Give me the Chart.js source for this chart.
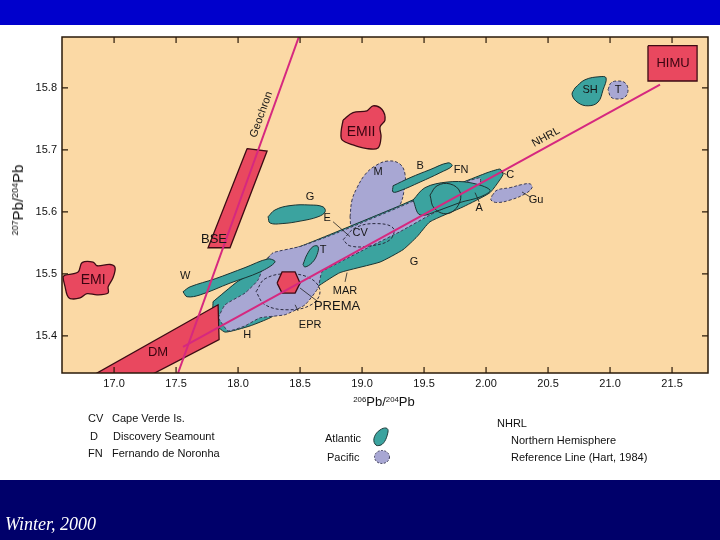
<!DOCTYPE html>
<html><head><meta charset="utf-8">
<script src="https://cdn.jsdelivr.net/npm/chart.js@4.4.1/dist/chart.umd.min.js"></script>
<style>
body{margin:0;}
#wrap{position:relative;width:720px;height:540px;overflow:hidden;background:#fff;font-family:"Liberation Sans",Arial,sans-serif;color:#111;}
.abs{position:absolute;white-space:nowrap;font-size:11px;line-height:12px;}
sup{font-size:0.6em;vertical-align:0.55em;line-height:0;}
</style></head><body>
<div id="wrap">
 <div class="abs" style="left:0;top:0;width:720px;height:25px;background:#0000cc"></div>
 <div class="abs" style="left:0;top:480px;width:720px;height:60px;background:#00006a"></div>
 <canvas id="c" width="720" height="540" style="position:absolute;left:0;top:0"></canvas>
 <div class="abs" style="left:18px;top:200px;font-size:15px;line-height:16px;transform:translate(-50%,-50%) rotate(-90deg)"><sup>207</sup>Pb/<sup>204</sup>Pb</div>
 <div class="abs" style="left:384px;top:402px;font-size:13px;line-height:14px;transform:translate(-50%,-50%)"><sup>206</sup>Pb/<sup>204</sup>Pb</div>
 <div class="abs" style="left:88px;top:412px">CV</div><div class="abs" style="left:112px;top:412px">Cape Verde Is.</div>
 <div class="abs" style="left:90px;top:430px">D</div><div class="abs" style="left:113px;top:430px">Discovery Seamount</div>
 <div class="abs" style="left:88px;top:447px">FN</div><div class="abs" style="left:112px;top:447px">Fernando de Noronha</div>
 <div class="abs" style="left:325px;top:432px">Atlantic</div>
 <div class="abs" style="left:327px;top:451px">Pacific</div>
 <svg class="abs" style="left:371px;top:426px" width="20" height="22" viewBox="0 0 20 22"><path d="M4 18 C1 14 4 7 9 4 C13 1 18 1 17 6 C16 11 14 17 10 19 C7 20 5 20 4 18 Z" fill="#3ba39f" stroke="#1e3b3a" stroke-width="1"/></svg>
 <svg class="abs" style="left:373px;top:449px" width="18" height="16" viewBox="0 0 18 16"><ellipse cx="9" cy="8" rx="7.5" ry="6.5" fill="#a8a7d3" stroke="#3a3a55" stroke-width="1" stroke-dasharray="2,1.5"/></svg>
 <div class="abs" style="left:497px;top:417px">NHRL</div>
 <div class="abs" style="left:511px;top:434px">Northern Hemisphere</div>
 <div class="abs" style="left:511px;top:451px">Reference Line (Hart, 1984)</div>
 <div class="abs" style="left:5px;top:514px;font-family:'Liberation Serif','Times New Roman',serif;font-style:italic;font-size:18px;line-height:20px;color:#fff">Winter, 2000</div>
</div>
<script>
// ---- axes ----
const xRange = [16.58, 21.79];
const yRange = [15.34, 15.882];
const xTickValues = [17.0, 17.5, 18.0, 18.5, 19.0, 19.5, 20.0, 20.5, 21.0, 21.5];
const xTickLabels = ["17.0","17.5","18.0","18.5","19.0","19.5","2.00","20.5","21.0","21.5"];
const yTickValues = [15.4, 15.5, 15.6, 15.7, 15.8];
const yTickLabels = ["15.4","15.5","15.6","15.7","15.8"];

// ---- reference lines (206Pb/204Pb, 207Pb/204Pb) ----
const geochron = [[17.516, 15.340], [18.490, 15.882]];
const nhrl = [[17.556, 15.382], [21.403, 15.805]];

// ---- mantle end-member fields ----
const himu = [[21.306,15.868],[21.702,15.868],[21.702,15.811],[21.306,15.811]];
const emi = [[16.605,15.498],[16.710,15.503],[16.742,15.518],[16.831,15.519],[16.863,15.513],[16.968,15.515],[17.008,15.510],[16.992,15.494],[16.952,15.479],[16.952,15.469],[16.863,15.466],[16.782,15.468],[16.726,15.461],[16.645,15.460],[16.621,15.466],[16.605,15.479],[16.589,15.495]];
const emii = [[18.847,15.748],[18.927,15.760],[19.040,15.763],[19.089,15.771],[19.161,15.765],[19.185,15.748],[19.145,15.737],[19.153,15.721],[19.129,15.703],[19.040,15.702],[18.927,15.708],[18.839,15.716],[18.831,15.729]];
const bse = [[18.073,15.702],[18.234,15.698],[17.935,15.542],[17.758,15.542]];
const dm = [[16.694,15.321],[17.839,15.450],[17.847,15.394],[17.145,15.321]];
const prema = [[18.315,15.485],[18.355,15.503],[18.460,15.503],[18.500,15.485],[18.460,15.469],[18.355,15.469]];

// ---- oceanic basalt fields ----
const atlanticBand = [[17.798,15.455],[17.992,15.487],[18.153,15.506],[18.258,15.529],[18.500,15.544],[18.798,15.568],[19.282,15.608],[19.548,15.631],[19.815,15.648],[20.008,15.663],[20.113,15.669],[20.137,15.660],[20.032,15.631],[19.815,15.608],[19.548,15.584],[19.444,15.560],[19.331,15.539],[19.145,15.519],[18.823,15.502],[18.661,15.482],[18.500,15.458],[18.258,15.429],[18.097,15.416],[17.895,15.406],[17.798,15.423]];
const pacificBand = [[17.839,15.429],[17.895,15.450],[18.056,15.469],[18.161,15.490],[18.218,15.519],[18.282,15.534],[18.500,15.544],[18.798,15.566],[19.282,15.606],[19.548,15.629],[19.815,15.647],[19.952,15.655],[19.952,15.644],[19.790,15.619],[19.548,15.595],[19.306,15.568],[19.065,15.544],[18.823,15.519],[18.677,15.503],[18.645,15.477],[18.540,15.450],[18.379,15.434],[18.177,15.429],[18.056,15.416],[17.919,15.408]];
const atlanticLobe = [[19.411,15.619],[19.508,15.639],[19.685,15.648],[19.871,15.647],[20.032,15.635],[19.952,15.624],[19.790,15.615],[19.629,15.603],[19.468,15.595]];
const walvis = [[17.556,15.471],[17.613,15.479],[17.815,15.492],[18.056,15.510],[18.242,15.524],[18.298,15.519],[18.177,15.503],[17.935,15.485],[17.694,15.466],[17.589,15.463]];
const mField = [[18.903,15.592],[18.919,15.619],[18.960,15.639],[19.024,15.660],[19.105,15.674],[19.210,15.682],[19.306,15.677],[19.347,15.660],[19.339,15.635],[19.306,15.611],[19.242,15.595],[19.129,15.581],[19.000,15.571],[18.919,15.574]];
const bField = [[19.250,15.642],[19.387,15.655],[19.548,15.668],[19.694,15.679],[19.726,15.674],[19.629,15.663],[19.468,15.648],[19.306,15.634],[19.250,15.632]];
const gField = [[18.242,15.592],[18.298,15.603],[18.419,15.610],[18.581,15.611],[18.685,15.608],[18.702,15.600],[18.645,15.592],[18.500,15.585],[18.355,15.581],[18.258,15.582]];
const guField = [[20.048,15.626],[20.089,15.635],[20.194,15.639],[20.290,15.644],[20.355,15.645],[20.371,15.639],[20.315,15.629],[20.194,15.619],[20.089,15.615],[20.040,15.619]];
const shField = [[20.718,15.800],[20.798,15.813],[20.919,15.818],[20.968,15.816],[20.944,15.797],[20.903,15.777],[20.823,15.771],[20.742,15.776],[20.694,15.789]];
const tPacific = [[20.984,15.797],[21.008,15.808],[21.065,15.811],[21.121,15.808],[21.145,15.797],[21.121,15.785],[21.065,15.782],[21.008,15.785]];
const tAtlantic = [[18.524,15.515],[18.556,15.531],[18.605,15.544],[18.645,15.544],[18.637,15.531],[18.597,15.518],[18.540,15.511]];
const eprOutline = [[18.145,15.471],[18.218,15.492],[18.403,15.500],[18.589,15.492],[18.661,15.471],[18.589,15.450],[18.403,15.442],[18.218,15.450]];
const cvOutline = [[18.847,15.555],[18.944,15.574],[19.105,15.581],[19.250,15.574],[19.226,15.555],[19.065,15.545],[18.903,15.545]];
const aOutline = [[19.548,15.627],[19.605,15.642],[19.710,15.645],[19.790,15.632],[19.774,15.610],[19.685,15.597],[19.581,15.606]];

// ---- labels ----
const fieldLabels = [
 ["HIMU",21.508,15.840],["SH",20.839,15.797],["T",21.065,15.797],["EMII",18.992,15.729],
 ["BSE",17.806,15.555],["EMI",16.831,15.490],["DM",17.355,15.373],["W",17.573,15.497],
 ["G",18.581,15.624],["E",18.718,15.590],["M",19.129,15.665],["B",19.468,15.674],
 ["FN",19.798,15.668],["C",20.194,15.660],["A",19.944,15.606],["Gu",20.403,15.619],
 ["CV",18.984,15.566],["T",18.685,15.539],["G",19.419,15.519],["MAR",18.863,15.473],
 ["PREMA",18.798,15.447],["EPR",18.581,15.418],["H",18.073,15.402]
];
const leaderLines = [
 [18.766,15.584,18.903,15.560],[19.944,15.616,19.911,15.631],[20.355,15.624,20.290,15.632],
 [20.165,15.660,20.125,15.664],[18.863,15.487,18.879,15.502],[18.645,15.455,18.500,15.477],
 [18.484,15.440,18.460,15.450]
];

// ---- styles ----
const S = {
 atl:{fill:'#3ba39f', stroke:'#1a3433', dash:[]},
 pac:{fill:'#a8a7d3', stroke:'#3a3a55', dash:[3,2]},
 red:{fill:'#e9485f', stroke:'#3d0b14', dash:[]},
 dash:{fill:null, stroke:'#2a2a40', dash:[3,2]},
 solid:{fill:null, stroke:'#1e2b2a', dash:[]}
};
const layers = [
 [mField,'pac',0.4],[bField,'atl',0.4],
 [atlanticBand,'atl',0.15],[pacificBand,'pac',0.15],[atlanticLobe,'atl',0.35],[walvis,'atl',0.35],
 [emi,'red',0.35],[emii,'red',0.35],[himu,'red',0],[bse,'red',0],[dm,'red',0],
 [gField,'atl',0.4],[guField,'pac',0.4],[shField,'atl',0.4],[tPacific,'pac',0.4],[tAtlantic,'atl',0.4],
 [eprOutline,'dash',0.4],[cvOutline,'dash',0.4],[aOutline,'solid',0.4],
 [prema,'red',0]
];
const datasets = [];
layers.forEach(([arr, st, ten]) => {
 const s = S[st];
 const d = arr.concat([arr[0]]).map(p => ({x:p[0], y:p[1]}));
 datasets.push({data:d, showLine:true, fill: s.fill ? 'shape' : false, backgroundColor: s.fill || 'rgba(0,0,0,0)',
  borderColor:s.stroke, borderWidth: st==='red'?1.3:1, borderDash:s.dash, tension:ten, pointRadius:0, clip:0});
});
[geochron, nhrl].forEach(arr => {
 datasets.push({data:arr.map(p=>({x:p[0],y:p[1]})), showLine:true, fill:false, borderColor:'#d6287f', borderWidth:2, tension:0, pointRadius:0, clip:0});
});
const N = datasets.length;
datasets.forEach((d,i)=>{ d.order = N - i; });

const bgPlugin = {
 id:'bg',
 beforeDraw(chart){
  const {ctx, chartArea:a} = chart;
  ctx.save(); ctx.fillStyle = '#fbd9a5'; ctx.fillRect(a.left, a.top, a.right-a.left, a.bottom-a.top); ctx.restore();
 }
};
const bigLabels = {HIMU:'13px', EMII:'14px', EMI:'14px', DM:'13px', BSE:'13px', PREMA:'13px'};
const redLabels = {HIMU:1, EMII:1, EMI:1, DM:1};
const overlay = {
 id:'overlay',
 afterDatasetsDraw(chart){
  const {ctx, chartArea:a, scales:{x, y}} = chart;
  ctx.save();
  ctx.strokeStyle = '#2a1a0a'; ctx.lineWidth = 1.5;
  ctx.strokeRect(a.left, a.top, a.right-a.left, a.bottom-a.top);
  ctx.lineWidth = 1.2;
  xTickValues.forEach(v => { const px = x.getPixelForValue(v);
   ctx.beginPath(); ctx.moveTo(px, a.bottom); ctx.lineTo(px, a.bottom-6); ctx.moveTo(px, a.top); ctx.lineTo(px, a.top+6); ctx.stroke(); });
  yTickValues.forEach(v => { const py = y.getPixelForValue(v);
   ctx.beginPath(); ctx.moveTo(a.left, py); ctx.lineTo(a.left+6, py); ctx.moveTo(a.right, py); ctx.lineTo(a.right-6, py); ctx.stroke(); });
  ctx.strokeStyle = '#222'; ctx.lineWidth = 0.8;
  leaderLines.forEach(l => { ctx.beginPath(); ctx.moveTo(x.getPixelForValue(l[0]), y.getPixelForValue(l[1])); ctx.lineTo(x.getPixelForValue(l[2]), y.getPixelForValue(l[3])); ctx.stroke(); });
  ctx.textAlign = 'center'; ctx.textBaseline = 'middle';
  fieldLabels.forEach(([t, vx, vy]) => {
   ctx.font = (bigLabels[t] || '11px') + ' "Liberation Sans", Arial, sans-serif';
   ctx.fillStyle = redLabels[t] ? '#3a0410' : '#151515';
   ctx.fillText(t, x.getPixelForValue(vx), y.getPixelForValue(vy));
  });
  ctx.font = '11px "Liberation Sans", Arial, sans-serif'; ctx.fillStyle = '#151515';
  const rot = (line, t, frac, off) => {
   const x1 = x.getPixelForValue(line[0][0]), y1 = y.getPixelForValue(line[0][1]);
   const x2 = x.getPixelForValue(line[1][0]), y2 = y.getPixelForValue(line[1][1]);
   const ang = Math.atan2(y2-y1, x2-x1);
   const cx = x1 + (x2-x1)*frac, cy = y1 + (y2-y1)*frac;
   ctx.save(); ctx.translate(cx, cy); ctx.rotate(ang); ctx.fillText(t, 0, -off); ctx.restore();
  };
  rot(geochron, 'Geochron', 0.76, 9);
  rot(nhrl, 'NHRL', 0.77, 9);
  ctx.restore();
 }
};

new Chart(document.getElementById('c'), {
 type:'scatter',
 data:{datasets},
 options:{
  responsive:false, animation:false, events:[],
  layout:{padding:{left:0, top:37, right:12, bottom:0}},
  plugins:{legend:{display:false}, tooltip:{enabled:false}},
  scales:{
   x:{type:'linear', min:xRange[0], max:xRange[1],
      grid:{display:false, drawTicks:false}, border:{display:false},
      afterBuildTicks: s => { s.ticks = xTickValues.map(v => ({value:v})); },
      afterFit: s => { s.height = 167; },
      ticks:{autoSkip:false, maxRotation:0, minRotation:0, padding:4, color:'#111',
        font:{family:'"Liberation Sans", Arial, sans-serif', size:11},
        callback:(v,i) => xTickLabels[i]}},
   y:{type:'linear', min:yRange[0], max:yRange[1],
      grid:{display:false, drawTicks:false}, border:{display:false},
      afterBuildTicks: s => { s.ticks = yTickValues.map(v => ({value:v})); },
      afterFit: s => { s.width = 62; },
      ticks:{autoSkip:false, padding:5, color:'#111',
        font:{family:'"Liberation Sans", Arial, sans-serif', size:11},
        callback:(v,i) => yTickLabels[i]}}
  }
 },
 plugins:[bgPlugin, overlay]
});
</script>
</body></html>
